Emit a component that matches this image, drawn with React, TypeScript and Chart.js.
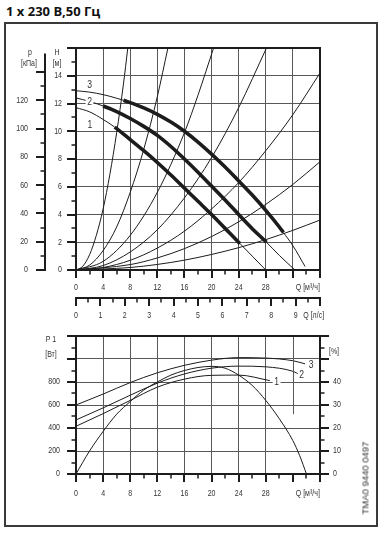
import React, { useEffect, useRef } from 'react';
import { Chart, registerables } from 'chart.js';

Chart.register(...registerables);

// ---------- texts ----------
const TITLE = '1 x 230 В,50 Гц';
const DRAWING_NO = 'TMA0 9440 0497';
const SPEED_LABELS = ['1', '2', '3'];

// ---------- top chart: Q-H ----------
const Q_MIN = 0;
const Q_MAX = 36; // m3/h
const H_MIN = 0;
const H_MAX = 16; // m
const KPA_PER_M = 9.80665;
const M3H_PER_LS = 3.6;

const Q_MAJOR = [0, 4, 8, 12, 16, 20, 24, 28, 32, 36];
const Q_MINOR = [2, 6, 10, 14, 18, 22, 26, 30, 34];
const Q_LABELS = [0, 4, 8, 12, 16, 20, 24, 28];
const LS_MAJOR = [0, 1, 2, 3, 4, 5, 6, 7, 8, 9, 10];
const LS_MINOR = [0.5, 1.5, 2.5, 3.5, 4.5, 5.5, 6.5, 7.5, 8.5, 9.5];
const LS_LABELS = [0, 1, 2, 3, 4, 5, 6, 7, 8, 9];
const H_MAJOR = [0, 2, 4, 6, 8, 10, 12, 14, 16];
const H_MINOR = [1, 3, 5, 7, 9, 11, 13, 15];
const H_LABELS = [0, 2, 4, 6, 8, 10, 12, 14];
const P_MAJOR = [0, 20, 40, 60, 80, 100, 120, 140];
const P_MINOR = [10, 30, 50, 70, 90, 110, 130];
const P_LABELS = [0, 20, 40, 60, 80, 100, 120];
const P_AXIS_TOP = 153; // kPa, end of the pressure axis line

// pump curves, speeds 1..3
const QH1_Q = [0, 2, 4, 5.7, 8, 10, 12, 14, 16, 18, 20, 22, 24.2, 26, 28];
const QH1_H = [11.7, 11.4, 10.85, 10.3, 9.4, 8.6, 7.75, 6.85, 5.9, 4.95, 4.0, 3.0, 1.9, 1.0, 0];
const QH2_Q = [0, 2, 4, 6, 8, 10, 12, 14, 16, 18, 20, 22, 24, 26, 28.1, 30, 32.3];
const QH2_H = [12.4, 12.15, 11.82, 11.42, 10.92, 10.35, 9.7, 8.9, 8.0, 7.05, 6.05, 5.05, 4.0, 2.98, 2.0, 1.05, 0];
const QH3_Q = [0, 2, 4, 6, 7, 8, 10, 12, 14, 16, 18, 20, 22, 24, 26, 28, 30, 30.6, 32, 33.8];
const QH3_H = [12.92, 12.82, 12.64, 12.38, 12.23, 12.06, 11.68, 11.22, 10.66, 10.0, 9.22, 8.35, 7.42, 6.42, 5.4, 4.3, 3.1, 2.7, 1.75, 0.25];
const QH_THICK_FROM = [5.7, 4, 7];
const QH_THICK_TO = [24.2, 28.1, 30.6];

// system (pipe) curves
const SYS1_Q = [0, 1, 2, 3, 4, 5, 6, 7, 7.64];
const SYS1_H = [0, 0.27, 1.1, 2.5, 4.4, 6.9, 9.9, 13.4, 16];
const SYS2_Q = [0, 2, 4, 6, 8, 10, 12, 13.56];
const SYS2_H = [0, 0.35, 1.4, 3.1, 5.6, 8.7, 12.5, 16];
const SYS3_Q = [0, 4, 8, 12, 16, 18, 20.3];
const SYS3_H = [0, 0.62, 2.5, 5.6, 9.9, 12.6, 16];
const SYS4_Q = [0, 4, 8, 12, 16, 20, 24, 28.1];
const SYS4_H = [0, 0.32, 1.3, 2.9, 5.2, 8.1, 11.7, 16];
const SYS5_Q = [0, 4, 8, 12, 16, 20, 24, 28, 32, 36];
const SYS5_H = [0, 0.18, 0.7, 1.58, 2.8, 4.4, 6.3, 8.6, 11.2, 14.2];
const SYS6_Q = [0, 8, 12, 16, 20, 24, 28, 32, 36];
const SYS6_H = [0, 0.39, 0.87, 1.54, 2.41, 3.47, 4.73, 6.17, 7.8];
const SYS7_Q = [0, 8, 12, 16, 20, 24, 28, 32, 36];
const SYS7_H = [0, 0.18, 0.4, 0.71, 1.12, 1.61, 2.19, 2.86, 3.6];

// ---------- bottom chart: P1 and efficiency ----------
const W_MIN = 0;
const W_MAX = 1200;
const ETA_MIN = 0;
const ETA_MAX = 60;
const W_MAJOR = [0, 200, 400, 600, 800, 1000, 1200];
const W_MINOR = [100, 300, 500, 700, 900, 1100];
const W_LABELS = [0, 200, 400, 600, 800];
const ETA_MAJOR = [0, 10, 20, 30, 40, 50, 60];
const ETA_MINOR = [5, 15, 25, 35, 45, 55];
const ETA_LABELS = [0, 10, 20, 30, 40];

const P1_1_Q = [0, 4, 8, 12, 16, 20, 24, 28.6];
const P1_1_W = [415, 525, 640, 755, 825, 858, 860, 812];
const P1_2_Q = [0, 4, 8, 12, 16, 20, 24, 28, 32, 33];
const P1_2_W = [470, 575, 685, 790, 870, 920, 938, 932, 893, 865];
const P1_3_Q = [0, 4, 8, 12, 16, 20, 24, 28, 32, 33.8];
const P1_3_W = [600, 695, 795, 880, 945, 990, 1012, 1008, 985, 958];
const ETA_Q = [0, 2, 4, 6, 8, 10, 12, 14, 16, 18, 20, 22, 24, 26, 28, 30, 32, 33, 34];
const ETA_PCT = [0, 10, 18.5, 26, 31.5, 36.5, 40, 43, 45, 46.3, 46.8, 46, 43, 38.5, 32, 24, 14.5, 8, 0];

// label anchors (data units)
const QH_LABEL_Q = [2.05, 2.0, 2.0];
const QH_LABEL_H = [10.45, 12.1, 13.35];
const P1_LABEL_Q = [29.6, 33.3, 34.7];
const P1_LABEL_W = [798, 860, 947];
const Q_TITLE_AT = 34.2;
const LS_TITLE_AT = 9.74;
const PARTIAL_GRID_Q = 32;
const PARTIAL_GRID_FROM_ETA = 26;

// ---------- styles ----------
const FONT = "'Liberation Sans', Arial, sans-serif";
const NARROW = 0.78;
const INK = '#1c1c1c';
const GRID = '#585858';
const TXT = '#333333';

const pts = (xs: number[], ys: number[]) => xs.map((x, i) => ({ x, y: ys[i] }));

function ticksX(ctx: CanvasRenderingContext2D, scale: any, values: number[], y0: number, len: number, w: number) {
  ctx.lineWidth = w;
  ctx.beginPath();
  for (const v of values) {
    const px = Math.round(scale.getPixelForValue(v));
    ctx.moveTo(px, y0);
    ctx.lineTo(px, y0 + len);
  }
  ctx.stroke();
}
function ticksY(ctx: CanvasRenderingContext2D, scale: any, values: number[], x0: number, len: number, w: number) {
  ctx.lineWidth = w;
  ctx.beginPath();
  for (const v of values) {
    const py = Math.round(scale.getPixelForValue(v));
    ctx.moveTo(x0, py);
    ctx.lineTo(x0 + len, py);
  }
  ctx.stroke();
}
function text(ctx: CanvasRenderingContext2D, s: string, x: number, y: number, size = 9, bg = false, align: CanvasTextAlign = 'center') {
  ctx.save();
  ctx.font = `${size}px ${FONT}`;
  ctx.textAlign = align;
  ctx.textBaseline = 'middle';
  ctx.translate(x, y);
  ctx.scale(NARROW, 1);
  if (bg) {
    const w = ctx.measureText(s).width;
    ctx.fillStyle = '#ffffff';
    ctx.fillRect(-w / 2 - 2, -size / 2, w + 4, size);
  }
  ctx.fillStyle = TXT;
  ctx.fillText(s, 0, 0);
  ctx.restore();
}

const lineDs = (data: any[], extra: any = {}) => ({
  data,
  borderColor: INK,
  borderWidth: 1,
  pointRadius: 0,
  fill: false,
  cubicInterpolationMode: 'monotone',
  ...extra,
});

const thickSeg = (from: number, to: number) => ({
  borderWidth: (c: any) => (c.p0.parsed.x >= from - 1e-6 && c.p1.parsed.x <= to + 1e-6 ? 3.6 : 1),
});

const hiddenTicks = { display: false };

const topDecor = {
  id: 'topDecor',
  afterDraw(chart: any) {
    const { ctx, chartArea: a, scales: s } = chart;
    ctx.save();
    ctx.strokeStyle = INK;
    ctx.lineWidth = 2;
    ctx.strokeRect(a.left, a.top, a.right - a.left, a.bottom - a.top);
    ticksX(ctx, s.x, Q_MAJOR, a.bottom, 8, 2);
    ticksX(ctx, s.x, Q_MINOR, a.bottom, 4.5, 1.5);
    const yLs = Math.round(s.x2.top);
    ctx.lineWidth = 2;
    ctx.beginPath();
    ctx.moveTo(a.left - 1, yLs);
    ctx.lineTo(a.right + 1, yLs);
    ctx.stroke();
    ticksX(ctx, s.x2, LS_MAJOR, yLs, 8, 2);
    ticksX(ctx, s.x2, LS_MINOR, yLs, 4.5, 1.5);
    ticksY(ctx, s.y, H_MAJOR, a.left, -9, 2);
    ticksY(ctx, s.y, H_MINOR, a.left, -4.5, 1.5);
    const xp = Math.round(s.yp.right);
    ctx.lineWidth = 2;
    ctx.beginPath();
    ctx.moveTo(xp, s.yp.getPixelForValue(0) + 1);
    ctx.lineTo(xp, s.yp.getPixelForValue(P_AXIS_TOP));
    ctx.stroke();
    ticksY(ctx, s.yp, P_MAJOR, xp, -9, 2);
    ticksY(ctx, s.yp, P_MINOR, xp, -4.5, 1.5);
    // tick labels
    Q_LABELS.forEach((v) => text(ctx, String(v), s.x.getPixelForValue(v), a.bottom + 17.5));
    LS_LABELS.forEach((v) => text(ctx, String(v), s.x2.getPixelForValue(v), yLs + 18));
    H_LABELS.forEach((v) => text(ctx, String(v), a.left - 14, s.y.getPixelForValue(v), 9, false, 'right'));
    P_LABELS.forEach((v) => text(ctx, String(v), xp - 17, s.yp.getPixelForValue(v), 9, false, 'right'));
    // axis titles
    text(ctx, 'p', xp - 15, a.top + 5);
    text(ctx, '[кПа]', xp - 16, a.top + 16);
    text(ctx, 'H', a.left - 19, a.top + 5);
    text(ctx, '[м]', a.left - 19, a.top + 16);
    text(ctx, 'Q [м³/ч]', s.x.getPixelForValue(Q_TITLE_AT), a.bottom + 17.5);
    text(ctx, 'Q [л/с]', s.x2.getPixelForValue(LS_TITLE_AT), yLs + 18);
    SPEED_LABELS.forEach((l, i) => {
      text(ctx, l, s.x.getPixelForValue(QH_LABEL_Q[i]), s.y.getPixelForValue(QH_LABEL_H[i]), 11, true);
    });
    ctx.restore();
  },
};

const bottomDecor = {
  id: 'bottomDecor',
  afterDraw(chart: any) {
    const { ctx, chartArea: a, scales: s } = chart;
    ctx.save();
    ctx.strokeStyle = GRID;
    ctx.lineWidth = 1;
    const gx = Math.round(s.x.getPixelForValue(PARTIAL_GRID_Q)) + 0.5;
    ctx.beginPath();
    ctx.moveTo(gx, a.top);
    ctx.lineTo(gx, s.y2.getPixelForValue(PARTIAL_GRID_FROM_ETA));
    ctx.stroke();
    ctx.strokeStyle = INK;
    ctx.lineWidth = 2;
    ctx.strokeRect(a.left, a.top, a.right - a.left, a.bottom - a.top);
    ticksX(ctx, s.x, Q_MAJOR, a.bottom, 8, 2);
    ticksX(ctx, s.x, Q_MINOR, a.bottom, 4.5, 1.5);
    ticksY(ctx, s.y, W_MAJOR, a.left, -9, 2);
    ticksY(ctx, s.y, W_MINOR, a.left, -4.5, 1.5);
    ticksY(ctx, s.y2, ETA_MAJOR, a.right, 9, 2);
    ticksY(ctx, s.y2, ETA_MINOR, a.right, 4.5, 1.5);
    Q_LABELS.forEach((v) => text(ctx, String(v), s.x.getPixelForValue(v), a.bottom + 19.5));
    W_LABELS.forEach((v) => text(ctx, String(v), a.left - 16, s.y.getPixelForValue(v), 9, false, 'right'));
    ETA_LABELS.forEach((v) => text(ctx, String(v), a.right + 13, s.y2.getPixelForValue(v), 9, false, 'left'));
    text(ctx, 'P 1', a.left - 25, a.top + 4);
    text(ctx, '[Вт]', a.left - 25, a.top + 19);
    text(ctx, '[%]', a.right + 14, a.top + 16);
    text(ctx, 'Q [м³/ч]', s.x.getPixelForValue(Q_TITLE_AT), a.bottom + 19.5);
    SPEED_LABELS.forEach((l, i) => {
      text(ctx, l, s.x.getPixelForValue(P1_LABEL_Q[i]), s.y.getPixelForValue(P1_LABEL_W[i]), 11, true);
    });
    ctx.restore();
  },
};

function topConfig(): any {
  return {
    type: 'line',
    data: {
      datasets: [
        lineDs(pts(QH1_Q, QH1_H), { segment: thickSeg(QH_THICK_FROM[0], QH_THICK_TO[0]) }),
        lineDs(pts(QH2_Q, QH2_H), { segment: thickSeg(QH_THICK_FROM[1], QH_THICK_TO[1]) }),
        lineDs(pts(QH3_Q, QH3_H), { segment: thickSeg(QH_THICK_FROM[2], QH_THICK_TO[2]) }),
        lineDs(pts(SYS1_Q, SYS1_H)),
        lineDs(pts(SYS2_Q, SYS2_H)),
        lineDs(pts(SYS3_Q, SYS3_H)),
        lineDs(pts(SYS4_Q, SYS4_H)),
        lineDs(pts(SYS5_Q, SYS5_H)),
        lineDs(pts(SYS6_Q, SYS6_H)),
        lineDs(pts(SYS7_Q, SYS7_H)),
      ],
    },
    options: {
      responsive: false,
      animation: false,
      events: [],
      layout: { padding: { left: 5, right: 70, top: 48, bottom: 10 } },
      plugins: { legend: { display: false }, tooltip: { enabled: false } },
      scales: {
        x: {
          type: 'linear', axis: 'x', position: 'bottom', weight: 0,
          min: Q_MIN, max: Q_MAX,
          afterFit: (sc: any) => { sc.height = 28; },
          grid: { color: GRID, lineWidth: 1, drawTicks: false },
          border: { display: false },
          ticks: { ...hiddenTicks, stepSize: 4 },
        },
        x2: {
          type: 'linear', axis: 'x', position: 'bottom', weight: 1,
          min: Q_MIN / M3H_PER_LS, max: Q_MAX / M3H_PER_LS,
          afterFit: (sc: any) => { sc.height = 27; },
          grid: { display: false, drawTicks: false },
          border: { display: false },
          ticks: { ...hiddenTicks, stepSize: 1 },
        },
        y: {
          type: 'linear', axis: 'y', position: 'left', weight: 0,
          min: H_MIN, max: H_MAX,
          afterFit: (sc: any) => { sc.width = 31; },
          grid: { color: GRID, lineWidth: 1, drawTicks: false },
          border: { display: false },
          ticks: { ...hiddenTicks, stepSize: 2 },
        },
        yp: {
          type: 'linear', axis: 'y', position: 'left', weight: 1,
          min: H_MIN * KPA_PER_M, max: H_MAX * KPA_PER_M,
          afterFit: (sc: any) => { sc.width = 40; },
          grid: { display: false, drawTicks: false },
          border: { display: false },
          ticks: { ...hiddenTicks, stepSize: 20 },
        },
      },
    },
    plugins: [topDecor],
  };
}

function bottomConfig(): any {
  return {
    type: 'line',
    data: {
      datasets: [
        lineDs(pts(P1_1_Q, P1_1_W)),
        lineDs(pts(P1_2_Q, P1_2_W)),
        lineDs(pts(P1_3_Q, P1_3_W)),
        lineDs(pts(ETA_Q, ETA_PCT), { yAxisID: 'y2' }),
      ],
    },
    options: {
      responsive: false,
      animation: false,
      events: [],
      layout: { padding: { left: 5, right: 5, top: 6, bottom: 39 } },
      plugins: { legend: { display: false }, tooltip: { enabled: false } },
      scales: {
        x: {
          type: 'linear', axis: 'x', position: 'bottom',
          min: Q_MIN, max: Q_MAX,
          afterFit: (sc: any) => { sc.height = 30; },
          grid: { color: (c: any) => (c.tick && c.tick.value === PARTIAL_GRID_Q ? 'rgba(0,0,0,0)' : GRID), lineWidth: 1, drawTicks: false },
          border: { display: false },
          ticks: { ...hiddenTicks, stepSize: 4 },
        },
        y: {
          type: 'linear', axis: 'y', position: 'left',
          min: W_MIN, max: W_MAX,
          afterFit: (sc: any) => { sc.width = 71; },
          grid: { color: GRID, lineWidth: 1, drawTicks: false },
          border: { display: false },
          ticks: { ...hiddenTicks, stepSize: 200 },
        },
        y2: {
          type: 'linear', axis: 'y', position: 'right',
          min: ETA_MIN, max: ETA_MAX,
          afterFit: (sc: any) => { sc.width = 65; },
          grid: { display: false, drawTicks: false },
          border: { display: false },
          ticks: { ...hiddenTicks, stepSize: 10 },
        },
      },
    },
    plugins: [bottomDecor],
  };
}

export default function App() {
  const topRef = useRef<HTMLCanvasElement>(null);
  const botRef = useRef<HTMLCanvasElement>(null);
  useEffect(() => {
    const c1 = new Chart(topRef.current as HTMLCanvasElement, topConfig());
    const c2 = new Chart(botRef.current as HTMLCanvasElement, bottomConfig());
    return () => {
      c1.destroy();
      c2.destroy();
    };
  }, []);
  return (
    <div style={{ position: 'absolute', left: 0, top: 0, width: 390, height: 543, background: '#fff', overflow: 'hidden' }}>
      <div style={{ position: 'absolute', left: 6, top: 2, font: "bold 13px 'Open Sans', 'Noto Sans', sans-serif", lineHeight: '18px', color: '#111', whiteSpace: 'nowrap' }}>
        {TITLE}
      </div>
      <div style={{ position: 'absolute', left: 4, top: 22, width: 374, height: 505, border: '2px solid #3a3a3a', boxSizing: 'border-box' }} />
      <canvas ref={topRef} width={390} height={335} style={{ position: 'absolute', left: 0, top: 0, width: 390, height: 335 }} />
      <canvas ref={botRef} width={390} height={213} style={{ position: 'absolute', left: 0, top: 330, width: 390, height: 213 }} />
      <div
        style={{
          position: 'absolute', left: 364.5, top: 478,
          transform: 'translate(-50%, -50%) rotate(-90deg)',
          font: "9.5px 'Liberation Sans', Arial, sans-serif", color: '#333', whiteSpace: 'nowrap', lineHeight: '11px',
        }}
      >
        {DRAWING_NO}
      </div>
    </div>
  );
}
